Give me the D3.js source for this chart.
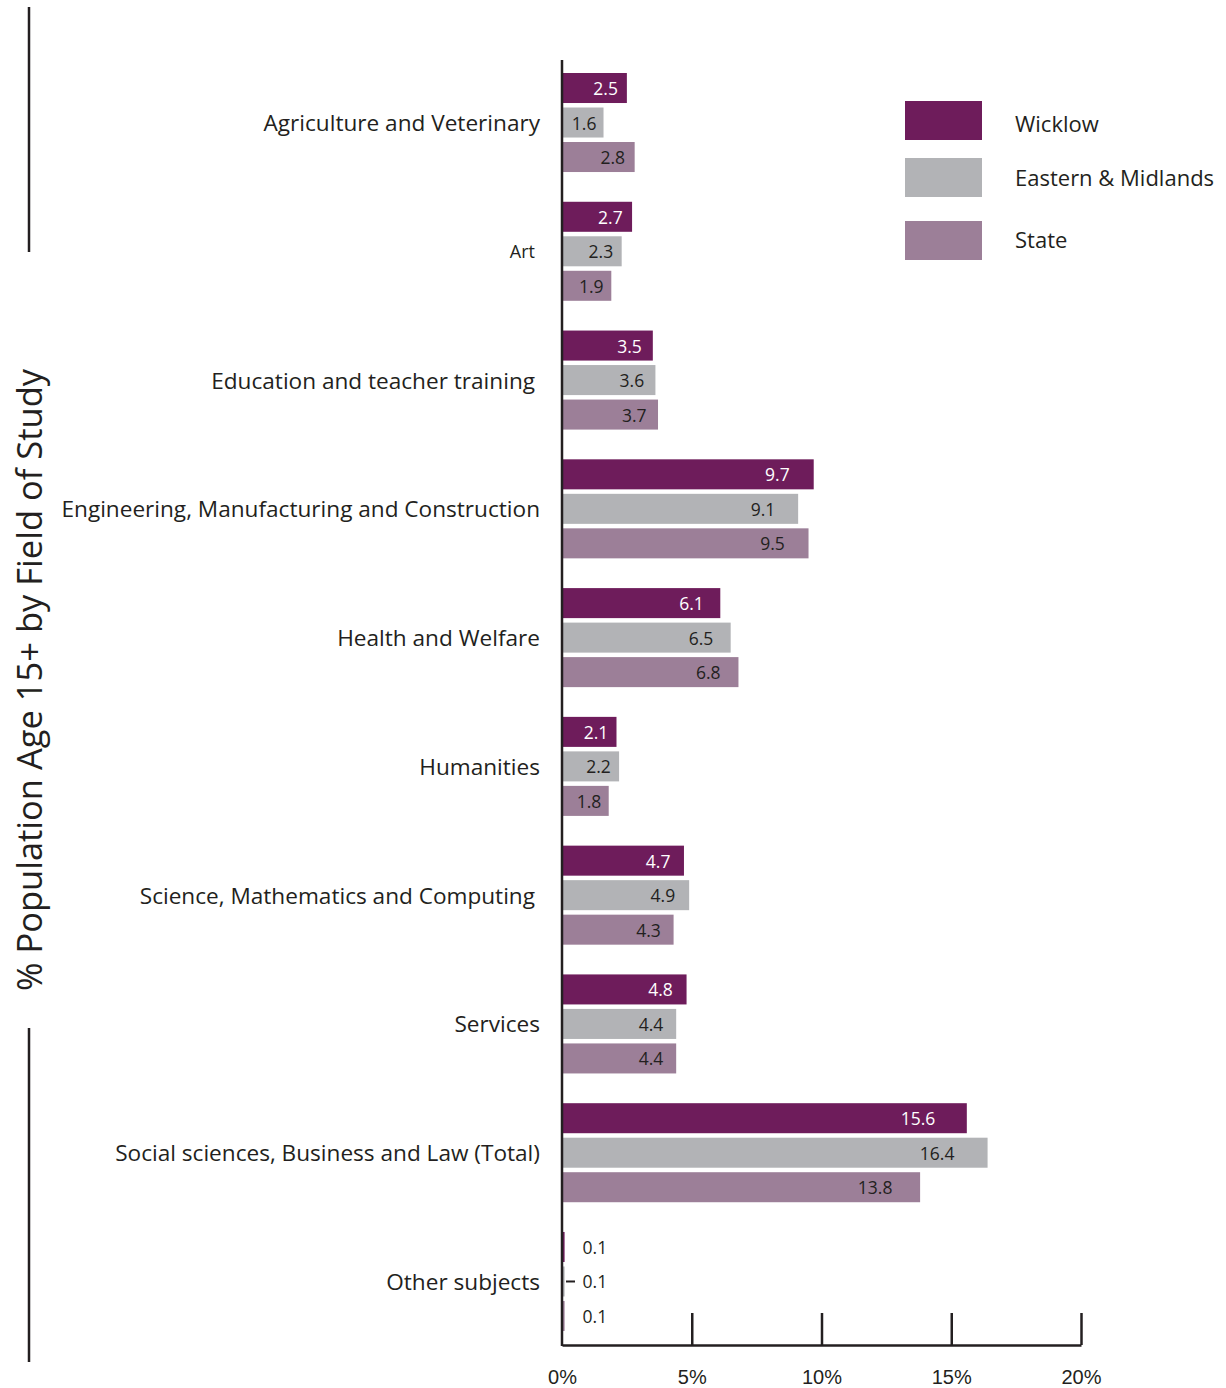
<!DOCTYPE html>
<html>
<head>
<meta charset="utf-8">
<script src="https://cdn.jsdelivr.net/npm/d3@7"></script>
<style>
  html, body { margin: 0; padding: 0; background: #fff; }
  svg { display: block; font-family: "Open Sans", "Noto Sans", sans-serif; }
</style>
</head>
<body>
<svg id="chart" width="1226" height="1388"></svg>
<script>
// Field of study, population aged 15+ (%)
const categories = [
  "Agriculture and Veterinary",
  "Art",
  "Education and teacher training",
  "Engineering, Manufacturing and Construction",
  "Health and Welfare",
  "Humanities",
  "Science, Mathematics and Computing",
  "Services",
  "Social sciences, Business and Law (Total)",
  "Other subjects"
];
const seriesNames = ["Wicklow", "Eastern & Midlands", "State"];
const wicklow = [2.5, 2.7, 3.5, 9.7, 6.1, 2.1, 4.7, 4.8, 15.6, 0.1];
const easternMidlands = [1.6, 2.3, 3.6, 9.1, 6.5, 2.2, 4.9, 4.4, 16.4, 0.1];
const state = [2.8, 1.9, 3.7, 9.5, 6.8, 1.8, 4.3, 4.4, 13.8, 0.1];
const xTicks = [0, 5, 10, 15, 20];
const seriesColors = ["#6e1c5b", "#b2b3b6", "#9c7f98"];

const seriesValues = [wicklow, easternMidlands, state];
const rows = categories.map((c, i) => ({
  category: c,
  values: seriesNames.map((s, j) => ({ series: s, value: seriesValues[j][i] }))
}));

const svg = d3.select("#chart");
const ink = "#231f20";

const x = d3.scaleLinear().domain([0, 20]).range([562, 1081]);
const y0 = d3.scaleBand().domain(categories).range([73, 1331]).paddingInner(0.231);
const y1 = d3.scaleBand().domain(seriesNames).range([0, y0.bandwidth()]).paddingInner(0.13);
const color = d3.scaleOrdinal().domain(seriesNames).range(seriesColors);
const axisY = 1345;

// bars
const groups = svg.append("g").selectAll("g")
  .data(rows).join("g")
  .attr("transform", d => `translate(0,${y0(d.category)})`);

groups.selectAll("rect")
  .data(d => d.values).join("rect")
  .attr("x", x(0))
  .attr("y", d => y1(d.series))
  .attr("width", d => x(d.value) - x(0))
  .attr("height", y1.bandwidth())
  .attr("fill", d => color(d.series));

// value labels: inside the bar end, outside for tiny bars
groups.selectAll("text.val")
  .data(d => d.values).join("text")
  .attr("class", "val")
  .attr("font-size", 17.5)
  .attr("dominant-baseline", "central")
  .attr("y", d => y1(d.series) + y1.bandwidth() / 2)
  .attr("x", d => d.value < 1 ? x(d.value) + 18 : x(d.value) - (16 + 2.1 * d.value))
  .attr("text-anchor", d => d.value < 1 ? "start" : "middle")
  .attr("fill", d => (d.series === "Wicklow" && d.value >= 1) ? "#fff" : ink)
  .text(d => d3.format(".1f")(d.value));

// leader mark for the small middle value
groups.filter(d => d.values[1].value < 1).append("line")
  .attr("x1", x(0) + 4).attr("x2", x(0) + 13)
  .attr("y1", y1(seriesNames[1]) + y1.bandwidth() / 2)
  .attr("y2", y1(seriesNames[1]) + y1.bandwidth() / 2)
  .attr("stroke", ink).attr("stroke-width", 2);

// category labels
const shortLabel = new Set(["Education and teacher training", "Science, Mathematics and Computing", "Art"]);
svg.append("g").selectAll("text")
  .data(categories).join("text")
  .attr("x", c => shortLabel.has(c) ? 535 : 540)
  .attr("y", c => y0(c) + y1(seriesNames[1]) + y1.bandwidth() / 2)
  .attr("text-anchor", "end")
  .attr("dominant-baseline", "central")
  .attr("font-size", c => c === "Art" ? 18 : 22.6)
  .attr("fill", ink)
  .text(c => c);

// x axis
const xAxis = d3.axisBottom(x)
  .tickValues(xTicks)
  .tickSize(0)
  .tickPadding(25)
  .tickFormat(d => d + "%");
const ax = svg.append("g").attr("transform", `translate(0,${axisY})`).call(xAxis);
ax.select(".domain").attr("stroke", ink).attr("stroke-width", 2.5);
ax.selectAll("text").attr("font-size", 20).attr("fill", ink).attr("font-family", null);
ax.selectAll(".tick").filter(d => d > 0).append("line")
  .attr("y1", 0).attr("y2", -32)
  .attr("stroke", ink).attr("stroke-width", 2.5);

// vertical baseline
svg.append("line")
  .attr("x1", x(0)).attr("x2", x(0))
  .attr("y1", 60).attr("y2", axisY + 1)
  .attr("stroke", ink).attr("stroke-width", 2.5);

// y title with side rules
svg.append("text")
  .attr("transform", "translate(28,680) rotate(-90)")
  .attr("text-anchor", "middle")
  .attr("dominant-baseline", "central")
  .attr("font-size", 34.5)
  .attr("fill", ink)
  .text("% Population Age 15+ by Field of Study");
svg.append("line").attr("x1", 29).attr("x2", 29).attr("y1", 7).attr("y2", 252)
  .attr("stroke", ink).attr("stroke-width", 2.5);
svg.append("line").attr("x1", 29).attr("x2", 29).attr("y1", 1028).attr("y2", 1362)
  .attr("stroke", ink).attr("stroke-width", 2.5);

// legend
const legend = svg.append("g").selectAll("g")
  .data(seriesNames).join("g")
  .attr("transform", (d, i) => `translate(905,${[101, 158, 221][i]})`);
legend.append("rect")
  .attr("width", 77).attr("height", 39)
  .attr("fill", d => color(d));
legend.append("text")
  .attr("x", 110).attr("y", (d, i) => [22, 19, 18][i])
  .attr("dominant-baseline", "central")
  .attr("font-size", 22)
  .attr("fill", ink)
  .text(d => d);
</script>
</body>
</html>
